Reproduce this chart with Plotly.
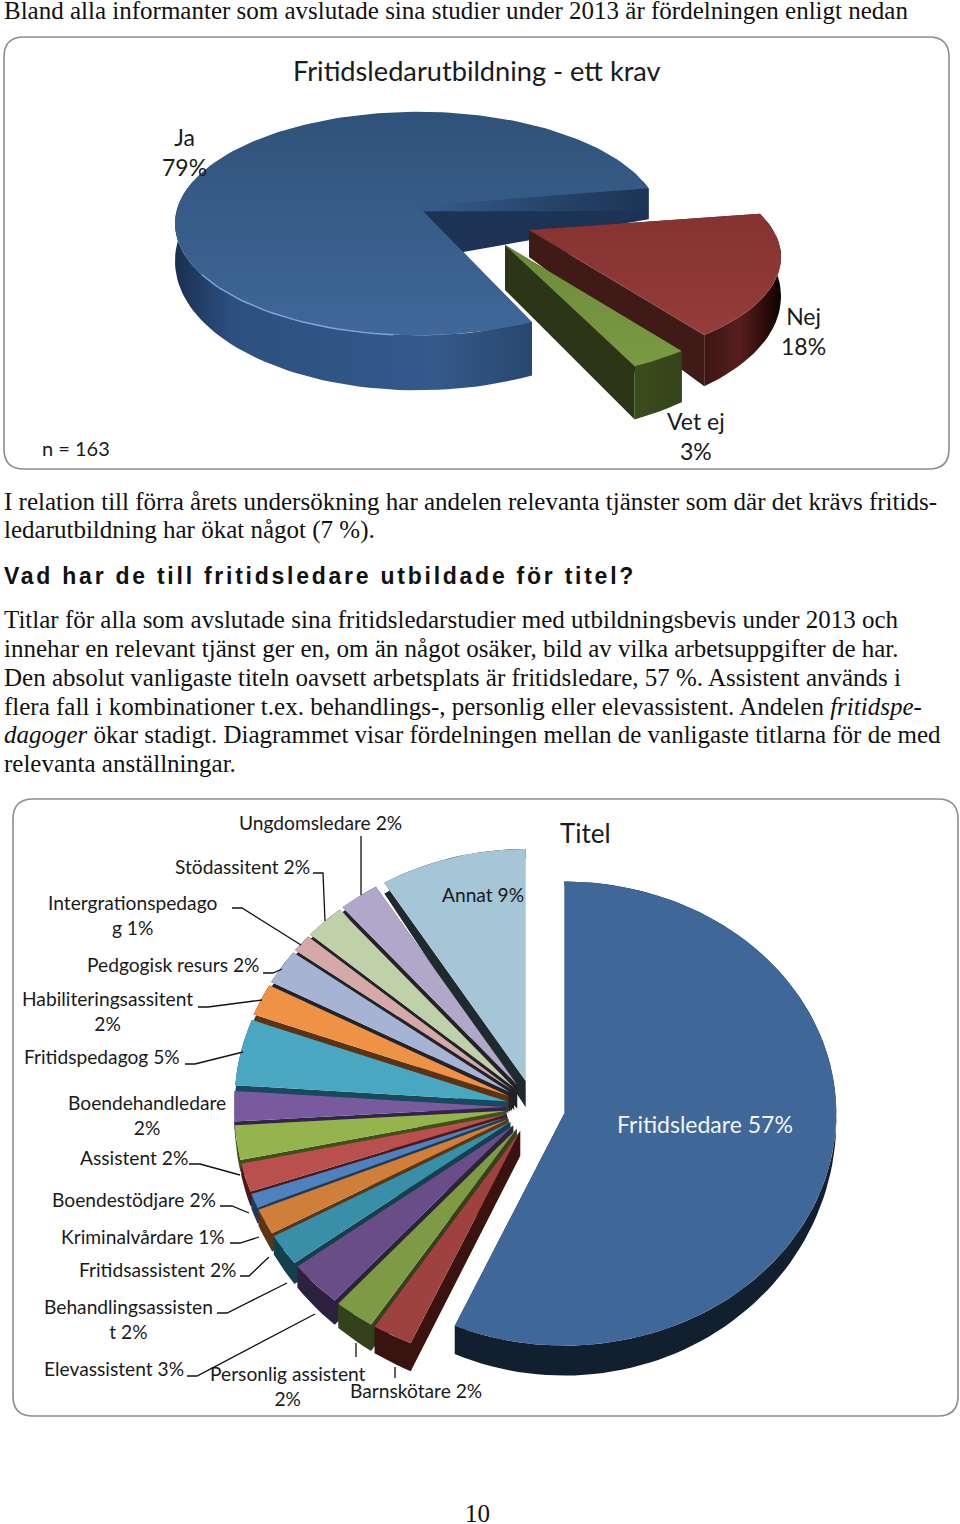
import math
import plotly.graph_objects as go

# ---------- data ----------
krav_labels = ["Ja", "Nej", "Vet ej"]
krav_values = [79, 18, 3]
titel_labels = ["Fritidsledare", "Barnskötare", "Personlig assistent", "Elevassistent",
                "Behandlingsassistent", "Fritidsassistent", "Kriminalvårdare", "Boendestödjare",
                "Assistent", "Boendehandledare", "Fritidspedagog", "Habiliteringsassitent",
                "Pedgogisk resurs", "Intergrationspedagog", "Stödassitent", "Ungdomsledare", "Annat"]
titel_values = [56.6, 2.4, 2.4, 3.2, 2.2, 1.8, 1.0, 2.0, 2.4, 2.1, 4.6, 2.2, 2.4, 1.2, 2.4, 2.4, 8.7]

body_lines = [
    (11, "Bland alla informanter som avslutade sina studier under 2013 är fördelningen enligt nedan"),
    (502, "I relation till förra årets undersökning har andelen relevanta tjänster som där det krävs fritids-"),
    (531, "ledarutbildning har ökat något (7 %)."),
    (620, "Titlar för alla som avslutade sina fritidsledarstudier med utbildningsbevis under 2013 och"),
    (649, "innehar en relevant tjänst ger en, om än något osäker, bild av vilka arbetsuppgifter de har."),
    (678, "Den absolut vanligaste titeln oavsett arbetsplats är fritidsledare, 57 %. Assistent används i"),
    (707, "flera fall i kombinationer t.ex. behandlings-, personlig eller elevassistent. Andelen <i>fritidspe-</i>"),
    (735, "<i>dagoger</i> ökar stadigt. Diagrammet visar fördelningen mellan de vanligaste titlarna för de med"),
    (764, "relevanta anställningar."),
]
heading = "Vad har de till fritidsledare utbildade för titel?"

# ---------- style ----------
SERIF = "Liberation Serif"
SANS = "Lato"
INK = "#1a1a1a"
LINE = "#111111"
titel_tops = ["#3f6797", "#9e4240", "#7f9a45", "#694d87", "#3a8fa8", "#cf7f3a", "#4f81bd", "#b9504d",
              "#95b44e", "#7a5a9e", "#4aa7c2", "#ee9246", "#a6b3d3", "#d4a9a7", "#c0d1a9", "#b1a7c8", "#a5c6d7"]
titel_walls = ["#121f2e", "#3a1210", "#33421a", "#2d2140", "#14404e", "#5c3612", "#1c3a5c", "#4d1a18",
               "#3d5218", "#33244a", "#164a5c", "#5c3210", "#22222a", "#22222a", "#22222a", "#22222a", "#1f2a2e"]
titel_pull = [32] + [27] * 16
CENTER2 = (533, 1107)
RX2, RY2 = 272, 232


def arc(start, end, n=None):
    n = n or max(3, int(abs(end - start) / 2) + 2)
    return [start + (end - start) * i / (n - 1) for i in range(n)]


def angles(values, first):
    total = sum(values)
    out, a = [], first
    for v in values:
        b = a - v / total * 360
        out.append((a, b))
        a = b
    return out


# ---------- chart 1 projection ----------
apex1 = [(418, 206), (529, 230), (505, 245)]
radius1 = [240, 244, 246]
persp1 = [0.157, 0.25, 0.25]
tilt1 = [109, 100, 100]
apex_depth1 = [54, 27, 45]


def proj1(i, deg, down=0.0):
    u, v = math.cos(math.radians(deg)), math.sin(math.radians(deg))
    s = 1 / (1 + persp1[i] * v)
    R = radius1[i]
    return apex1[i][0] + R * u * s, apex1[i][1] - tilt1[i] * (R / 240) * v * s + down


def depth1(deg):
    v = math.sin(math.radians(deg))
    return 34 + 21 * (-v) if v < 0 else 34 - 18 * v


# ---------- chart 2 projection ----------
def proj2(apex, deg, down=0.0):
    return apex[0] + RX2 * math.cos(math.radians(deg)), apex[1] - RY2 * math.sin(math.radians(deg)) + down


def depth2(deg):
    v = math.sin(math.radians(deg))
    return 7 + 23 * (-v) if v < 0 else 7 - 3 * v


fig = go.Figure()


def poly(xs, ys, name, color=None, gradient=None):
    kw = dict(fillgradient=gradient) if gradient else dict(fillcolor=color)
    fig.add_trace(go.Scatter(x=xs, y=ys, mode="lines", fill="toself", line=dict(width=0),
                             hoverinfo="text", text=name, showlegend=False, **kw))


def hgrad(stops):
    return dict(type="horizontal", colorscale=stops)


def vgrad(top, bottom):
    return dict(type="vertical", colorscale=[[0, bottom], [1, top]])


# ---------- chart 1 slices ----------
top1 = [vgrad("#2f5279", "#3f6899"), vgrad("#853331", "#943c3a"), vgrad("#6d8a3a", "#7b9a44")]
side1 = ["#1c3355", "#3f1a16", "#2c3515"]
rim1 = [
    [[0, "#1a2f4f"], [0.12, "#2c5080"], [0.55, "#34598a"], [0.85, "#233f63"], [1, "#1d3554"]],
    [[0, "#3a1512"], [0.45, "#571f1d"], [0.8, "#2a0c0a"], [1, "#0e0403"]],
    [[0, "#3c4d1c"], [1, "#34431a"]],
]
for i, (a, b) in enumerate(angles(krav_values, -66)):
    name = f"{krav_labels[i]} {krav_values[i]}%"
    degs = arc(a, b)
    top = [proj1(i, d) for d in degs]
    bot = [proj1(i, d, depth1(d)) for d in degs]
    ab = (apex1[i][0], apex1[i][1] + apex_depth1[i])
    # side walls along both straight edges
    xs, ys = [], []
    for t, bt in ((top[0], bot[0]), (top[-1], bot[-1])):
        xs += [apex1[i][0], t[0], bt[0], ab[0], apex1[i][0], None]
        ys += [apex1[i][1], t[1], bt[1], ab[1], apex1[i][1], None]
    poly(xs, ys, name, color=side1[i])
    # outer rim
    vis = [k for k, d in enumerate(degs) if math.sin(math.radians(d)) < 0.25]
    rx = [top[k][0] for k in vis] + [bot[k][0] for k in reversed(vis)]
    ry = [top[k][1] for k in vis] + [bot[k][1] for k in reversed(vis)]
    rx.append(rx[0]); ry.append(ry[0])
    poly(rx, ry, name, gradient=hgrad(rim1[i]))
    # top face
    poly([apex1[i][0]] + [p[0] for p in top] + [apex1[i][0]],
         [apex1[i][1]] + [p[1] for p in top] + [apex1[i][1]], name, gradient=top1[i])
    if i == 0:
        hl = [proj1(i, d) for d in arc(-145, -95)]
        fig.add_trace(go.Scatter(x=[p[0] for p in hl], y=[p[1] for p in hl], mode="lines",
                                 line=dict(color="#7ea6d6", width=1.4), hoverinfo="skip", showlegend=False))

# ---------- chart 2 slices ----------
spans = angles(titel_values, 90)
order = list(range(len(titel_values) - 1, 0, -1)) + [0]
for i in order:
    a, b = spans[i]
    mid = math.radians((a + b) / 2)
    apex = (CENTER2[0] + titel_pull[i] * math.cos(mid), CENTER2[1] - titel_pull[i] * math.sin(mid))
    boost = 2.4 if titel_labels[i] == "Annat" else 1
    name = f"{titel_labels[i]} {round(titel_values[i])}%"
    degs = arc(a, b)
    top = [proj2(apex, d) for d in degs]
    bot = [proj2(apex, d, depth2(d) * boost) for d in degs]
    ad = 10 + 17 * abs(math.sin(mid))
    ab = (apex[0], apex[1] + ad)
    xs = [apex[0], top[0][0], bot[0][0], ab[0], apex[0], None,
          apex[0], top[-1][0], bot[-1][0], ab[0], apex[0], None]
    ys = [apex[1], top[0][1], bot[0][1], ab[1], apex[1], None,
          apex[1], top[-1][1], bot[-1][1], ab[1], apex[1], None]
    xs += [p[0] for p in top] + [p[0] for p in reversed(bot)] + [top[0][0]]
    ys += [p[1] for p in top] + [p[1] for p in reversed(bot)] + [top[0][1]]
    poly(xs, ys, name, color=titel_walls[i])
    poly([apex[0]] + [p[0] for p in top] + [apex[0]],
         [apex[1]] + [p[1] for p in top] + [apex[1]], name, color=titel_tops[i])

# ---------- text ----------
ann = []


def label(x, y, text, size=19.2, color=INK, font=SANS, anchor="center"):
    ann.append(dict(x=x, y=y - 1, xref="x", yref="y", text=text, showarrow=False, xanchor=anchor,
                    yanchor="middle", align="center", font=dict(family=font, size=size, color=color)))


for y, t in body_lines:
    label(2, y, t, size=25, color="#111111", font=SERIF, anchor="left")
label(2, 577, f"<b>{heading}</b>", size=23, color="#111111", font="Liberation Sans", anchor="left")
label(477, 1514, "10", size=25, color="#111111", font=SERIF)

label(477, 71, "Fritidsledarutbildning - ett krav", size=27.2)
label(40, 449, "n = 163", size=20, anchor="left")
for (x, y), name, v in zip([(184, 153), (803, 332), (696, 437)], krav_labels, krav_values):
    label(x, y, f"{name}<br>{v}%", size=23)

label(585, 834, "Titel", size=26)
breaks = {"Intergrationspedagog": 19, "Habiliteringsassitent": 21, "Boendehandledare": 16,
          "Behandlingsassistent": 19, "Personlig assistent": 19}
places = {"Barnskötare": (416, 1391), "Personlig assistent": (288, 1387), "Elevassistent": (114, 1369),
          "Behandlingsassistent": (128, 1320), "Fritidsassistent": (157, 1270), "Kriminalvårdare": (143, 1237),
          "Boendestödjare": (134, 1200), "Assistent": (134, 1158), "Boendehandledare": (147, 1116),
          "Fritidspedagog": (102, 1057), "Habiliteringsassitent": (107, 1012), "Pedgogisk resurs": (173, 965),
          "Intergrationspedagog": (132, 916), "Stödassitent": (242, 867), "Ungdomsledare": (320, 823),
          "Annat": (483, 895)}
for name, v in zip(titel_labels, titel_values):
    s = f"{name} {round(v)}%"
    if name in breaks:
        k = breaks[name]
        s = s[:k] + "<br>" + s[k:].lstrip()
    if name == "Fritidsledare":
        label(705, 1125, s, size=23, color="#f2f6fa")
    else:
        label(*places[name], s)

# ---------- leader lines ----------
leaders = [
    [(361, 836), (361, 895)], [(313, 873), (323, 873), (325, 921)],
    [(232, 908), (242, 908), (301, 945)], [(263, 973), (273, 973), (282, 969)],
    [(198, 1007), (208, 1007), (262, 1000)], [(185, 1064), (195, 1064), (243, 1052)],
    [(189, 1164), (200, 1164), (240, 1175)], [(220, 1206), (232, 1206), (249, 1213)],
    [(230, 1243), (240, 1243), (259, 1237)], [(240, 1276), (249, 1276), (269, 1257)],
    [(217, 1313), (227, 1313), (287, 1283)], [(187, 1376), (197, 1376), (315, 1314)],
    [(356, 1343), (356, 1357)], [(395, 1367), (395, 1378)],
]
shapes = []
for pts in leaders:
    path = "M " + " L ".join(f"{x},{y}" for x, y in pts)
    shapes.append(dict(type="path", path=path, line=dict(color=LINE, width=1.3), layer="above"))


def card(x0, y0, x1, y1, r=20):
    path = (f"M {x0+r},{y0} L {x1-r},{y0} Q {x1},{y0} {x1},{y0+r} L {x1},{y1-r} Q {x1},{y1} {x1-r},{y1} "
            f"L {x0+r},{y1} Q {x0},{y1} {x0},{y1-r} L {x0},{y0+r} Q {x0},{y0} {x0+r},{y0} Z")
    return dict(type="path", path=path, line=dict(color="#8c8c8c", width=1.6), fillcolor="white", layer="below")


shapes += [card(4, 37, 949, 469), card(13, 799, 958, 1416)]

fig.update_layout(
    width=960, height=1524, margin=dict(l=0, r=0, t=0, b=0),
    paper_bgcolor="white", plot_bgcolor="white", showlegend=False,
    xaxis=dict(range=[0, 960], visible=False, fixedrange=True),
    yaxis=dict(range=[1524, 0], visible=False, fixedrange=True),
    annotations=ann, shapes=shapes,
)
post = """
document.body.style.margin='0';
document.querySelectorAll('.annotation-text').forEach(function(t){
  if(t.textContent.indexOf('Vad har de')===0){
    var left=t.getBBox().x;
    t.setAttribute('text-anchor','start');
    t.setAttribute('x',left);
    t.style.letterSpacing='2.75px';
  }
});
"""
fig.write_html("out.html", post_script=post, config={"displayModeBar": False})
